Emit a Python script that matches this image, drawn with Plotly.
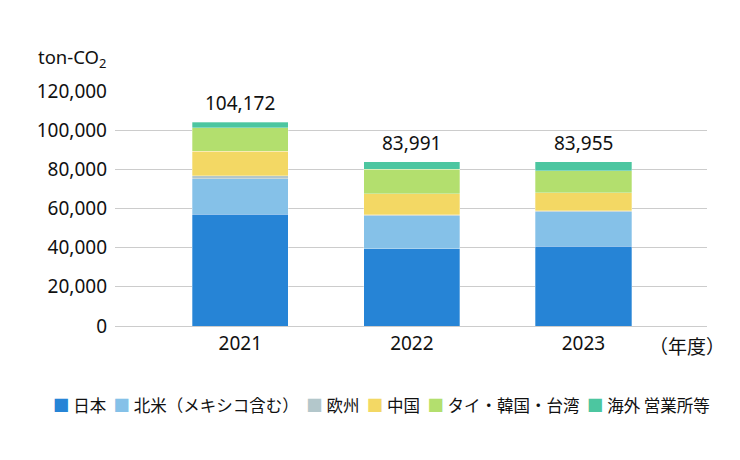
import plotly.graph_objects as go

years = ["2021", "2022", "2023"]
series_names = ["日本", "北米（メキシコ含む）", "欧州", "中国", "タイ・韓国・台湾", "海外 営業所等"]
japan = [57000, 39500, 40850]
north_america = [18200, 16900, 17600]
europe = [1500, 300, 300]
china = [12600, 10900, 9200]
thai_korea_taiwan = [11900, 12450, 11400]
overseas_offices = [2972, 3941, 4605]
totals = [104172, 83991, 83955]
y_ticks = [0, 20000, 40000, 60000, 80000, 100000, 120000]
colors = ["#2684d6", "#85c1e8", "#b3c7cb", "#f3d864", "#b3df6e", "#4cc6a0"]

series = [japan, north_america, europe, china, thai_korea_taiwan, overseas_offices]

FONT = "Noto Sans, Noto Sans CJK JP, sans-serif"
CJK = "Noto Sans CJK JP, Noto Sans, sans-serif"

fig = go.Figure()
for name, vals, col in zip(series_names, series, colors):
    fig.add_trace(go.Bar(
        x=years, y=vals, name=name, showlegend=False,
        marker=dict(color=col, line=dict(color="rgba(255,255,255,0.6)", width=0.5)),
        width=0.56,
    ))

for i, tot in enumerate(totals):
    fig.add_annotation(x=i, y=tot, text=f"{tot:,}", showarrow=False,
                       xref="x", yref="y", yanchor="bottom", yshift=4,
                       font=dict(size=19, color="#111111", family=FONT))

fig.add_annotation(xref="paper", yref="paper", x=-0.012, y=1.14, xanchor="right",
                   yanchor="middle", text="ton-CO<sub>2</sub>", showarrow=False,
                   font=dict(size=18.5, color="#111111", family=FONT))
fig.add_annotation(xref="paper", yref="paper", x=1.033, y=-0.085, xanchor="right",
                   yanchor="middle", text="（年度）", showarrow=False,
                   font=dict(size=19, color="#111111", family=CJK))

# legend row built from the series names and colours
legend_text = "\u00a0\u00a0".join(
    f"<span style='color:{c}'>■</span>\u00a0{n}" for n, c in zip(series_names, colors)
)
fig.add_annotation(xref="paper", yref="paper", x=0.451, y=-0.336,
                   xanchor="center", yanchor="middle", text=legend_text,
                   showarrow=False, font=dict(size=16.5, color="#111111", family=CJK))

fig.update_layout(
    barmode="stack",
    width=732, height=452,
    margin=dict(l=107, r=33, t=83, b=134, autoexpand=False),
    paper_bgcolor="white", plot_bgcolor="white",
    font=dict(family=FONT, size=19, color="#111111"),
    xaxis=dict(type="category", range=[-0.73, 2.72], showline=False, ticks="",
               showgrid=False, tickfont=dict(size=19), automargin=False,
               ticklabelstandoff=4),
    yaxis=dict(range=[0, 120000], tickvals=y_ticks,
               ticktext=[f"{v:,}" for v in y_ticks],
               showgrid=True, gridcolor="#cccccc", gridwidth=1,
               zeroline=True, zerolinecolor="#cccccc", zerolinewidth=1,
               ticks="", ticklabelstandoff=7, tickfont=dict(size=19),
               automargin=False),
    showlegend=False,
)

fig.write_html("out.html")
